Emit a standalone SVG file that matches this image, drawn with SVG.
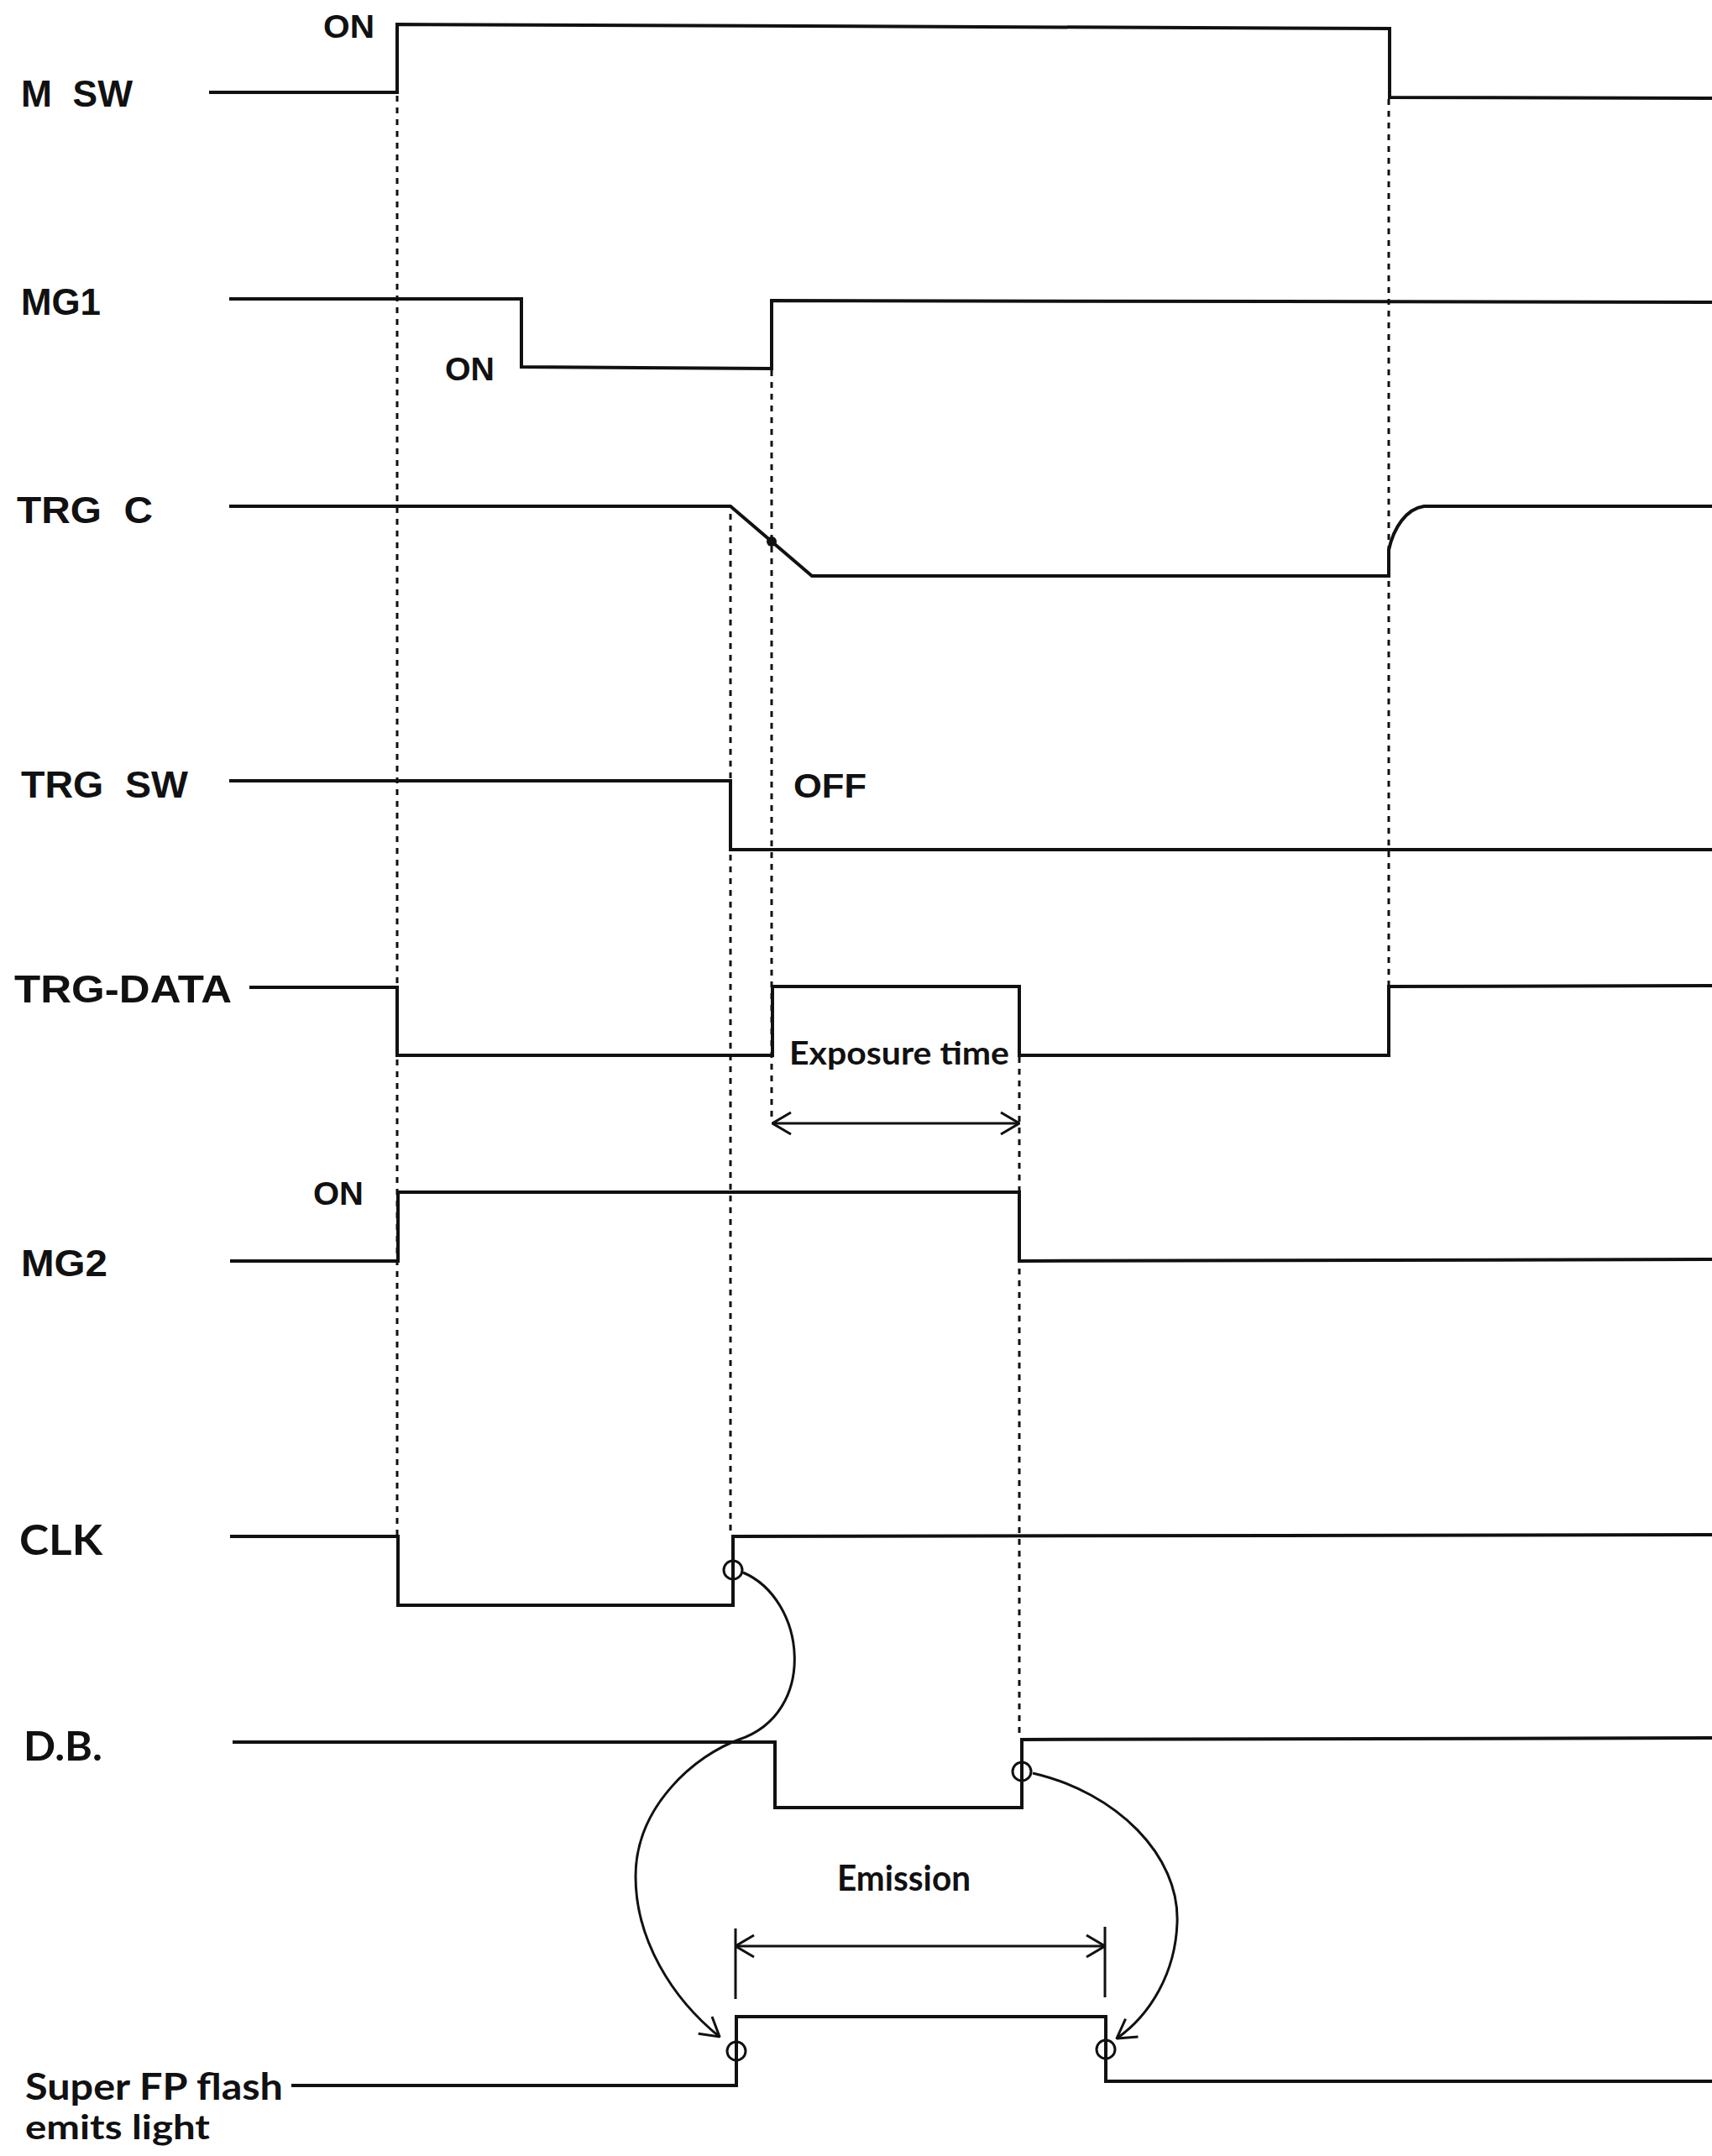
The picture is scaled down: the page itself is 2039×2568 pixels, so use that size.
<svg xmlns="http://www.w3.org/2000/svg" width="2039" height="2568" viewBox="0 0 2039 2568">
<style>
.sig{fill:none;stroke:#111;stroke-width:4;stroke-linejoin:miter}
.dash{fill:none;stroke:#111;stroke-width:3;stroke-dasharray:7 7}
.thin{fill:none;stroke:#111;stroke-width:3}
.lbl{font-family:"Liberation Sans",Arial,sans-serif;font-size:45px;font-weight:bold;fill:#111}
.lbl2{font-family:Lato,"Open Sans",sans-serif;font-size:46px;font-weight:bold;fill:#111}
.mark{fill:none;stroke:#111;stroke-width:3}
</style>
<defs>
<marker id="open" viewBox="0 0 24 30" refX="23" refY="15" markerWidth="24" markerHeight="30" markerUnits="userSpaceOnUse" orient="auto-start-reverse">
<path d="M1,2 L23,15 L1,28" fill="none" stroke="#111" stroke-width="3"/>
</marker>
</defs>
<rect width="2039" height="2568" fill="#fff"/>

<g id="connectors">
<path class="dash" d="M473,114 V1828"/>
<path class="dash" d="M870,612 V1828"/>
<path class="dash" d="M919,441 V1336"/>
<path class="dash" d="M1214,1259 V2070"/>
<path class="dash" d="M1654,118 V1173"/>
<path class="thin" d="M920,1338 H1214" marker-start="url(#open)" marker-end="url(#open)"/>
<path class="thin" d="M876,2318 H1316" marker-start="url(#open)" marker-end="url(#open)"/>
<path class="thin" d="M876,2297 V2381 M1316,2295 V2379"/>
<path class="thin" d="M885,1873 C960,1905 975,2040 880,2072 C830,2090 757,2150 757,2235 C757,2310 800,2380 857,2426" marker-end="url(#open)"/>
<path class="thin" d="M1230,2112 C1330,2135 1405,2210 1402,2290 C1400,2350 1370,2400 1330,2428" marker-end="url(#open)"/>
</g>

<g id="msw">
<text class="lbl" x="25" y="127" xml:space="preserve" textLength="133" lengthAdjust="spacingAndGlyphs">M  SW</text>
<path class="sig" d="M249,110 L473,110 L473,29 L1655,34 L1655,116 L2039,117"/>
<text class="lbl" x="385" y="45" style="font-size:38px" textLength="61" lengthAdjust="spacingAndGlyphs">ON</text>
</g>

<g id="mg1">
<text class="lbl" x="25" y="375" textLength="95" lengthAdjust="spacingAndGlyphs">MG1</text>
<path class="sig" d="M273,356 L621,356 L621,437 L919,439 L919,358 L2039,360"/>
<text class="lbl" x="530" y="453" style="font-size:38px" textLength="59" lengthAdjust="spacingAndGlyphs">ON</text>
</g>

<g id="trgc">
<text class="lbl" x="20" y="623" xml:space="preserve" textLength="162" lengthAdjust="spacingAndGlyphs">TRG  C</text>
<path class="sig" d="M273,603 L870,603 L967,686 L1654,686 L1654,655 C1660,628 1675,606 1696,603 L2039,603"/>
<circle cx="919" cy="645" r="6" fill="#111"/>
</g>

<g id="trgsw">
<text class="lbl" x="25" y="950" xml:space="preserve" textLength="199" lengthAdjust="spacingAndGlyphs">TRG  SW</text>
<path class="sig" d="M273,930 L870,930 L870,1012 L2039,1012"/>
<text class="lbl" x="945" y="950" style="font-size:40px" textLength="87" lengthAdjust="spacingAndGlyphs">OFF</text>
</g>

<g id="trgdata">
<text class="lbl" x="17" y="1194" style="font-size:47px" textLength="259" lengthAdjust="spacingAndGlyphs">TRG-DATA</text>
<path class="sig" d="M297,1176 L473,1176 L473,1257 L920,1257 L920,1175 L1214,1175 L1214,1257 L1654,1257 L1654,1175 L2039,1174"/>
<text class="lbl2" x="940" y="1268" style="font-size:38px" textLength="262" lengthAdjust="spacingAndGlyphs">Exposure time</text>
</g>

<g id="mg2">
<text class="lbl" x="25" y="1520" textLength="103" lengthAdjust="spacingAndGlyphs">MG2</text>
<path class="sig" d="M274,1502 L474,1502 L474,1420 L1214,1420 L1214,1502 L2039,1500"/>
<text class="lbl" x="373" y="1435" style="font-size:38px" textLength="60" lengthAdjust="spacingAndGlyphs">ON</text>
</g>

<g id="clk">
<text class="lbl2" x="23" y="1852" style="font-size:50px" textLength="99" lengthAdjust="spacingAndGlyphs">CLK</text>
<path class="sig" d="M274,1830 L474,1830 L474,1912 L873,1912 L873,1830 L2039,1828"/>
<ellipse class="mark" cx="873" cy="1870" rx="11" ry="11"/>
</g>

<g id="db">
<text class="lbl2" x="28" y="2097" style="font-size:48px" textLength="94" lengthAdjust="spacingAndGlyphs">D.B.</text>
<path class="sig" d="M277,2075 L923,2075 L923,2153 L1217,2153 L1217,2072 L2039,2070"/>
<ellipse class="mark" cx="1217" cy="2110" rx="11" ry="11"/>
</g>

<g id="superfp">
<text class="lbl2" x="30" y="2501" style="font-size:44px" textLength="307" lengthAdjust="spacingAndGlyphs">Super FP flash</text>
<text class="lbl2" x="30" y="2548" style="font-size:40px" textLength="220" lengthAdjust="spacingAndGlyphs">emits light</text>
<path class="sig" d="M347,2484 L877,2484 L877,2402 L1317,2402 L1317,2479 L2039,2479"/>
<ellipse class="mark" cx="877" cy="2443" rx="11" ry="11"/>
<ellipse class="mark" cx="1317" cy="2441" rx="11" ry="11"/>
<text class="lbl2" x="997" y="2252" style="font-size:42px" textLength="159" lengthAdjust="spacingAndGlyphs">Emission</text>
</g>
</svg>
